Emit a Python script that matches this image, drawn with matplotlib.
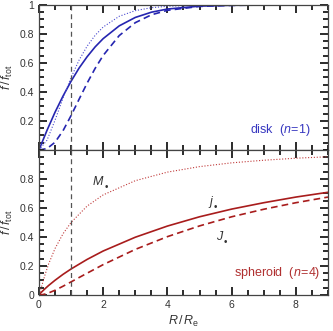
import numpy as np
import matplotlib
matplotlib.use('Agg')
import matplotlib.pyplot as plt
from matplotlib.ticker import MultipleLocator, FixedLocator, FuncFormatter

plt.rcParams['font.family'] = ['Liberation Sans', 'DejaVu Sans']
plt.rcParams['mathtext.fontset'] = 'custom'
plt.rcParams['mathtext.rm'] = 'Liberation Sans'
plt.rcParams['mathtext.it'] = 'Liberation Sans:italic'
plt.rcParams['mathtext.bf'] = 'Liberation Sans:bold'

# disk (n=1) cumulative fractions
r_disk = [0, 0.25, 0.5, 0.75, 1.0, 1.25, 1.5, 1.75, 2.0, 2.5, 3.0, 3.5, 4.0, 5.0, 6.0, 7.0, 9.0]
m_disk = [0, 0.067, 0.205, 0.358, 0.500, 0.620, 0.716, 0.791, 0.848, 0.922, 0.961, 0.981, 0.991, 0.998, 0.9995, 0.9999, 1.0]
jj_disk = [0, 0.135, 0.260, 0.372, 0.474, 0.565, 0.643, 0.711, 0.768, 0.856, 0.914, 0.950, 0.972, 0.992, 0.998, 0.9995, 1.0]
J_disk = [0, 0.009, 0.053, 0.133, 0.237, 0.350, 0.461, 0.563, 0.652, 0.789, 0.878, 0.932, 0.963, 0.990, 0.997, 0.9994, 1.0]

# spheroid (n=4) cumulative fractions
r_sph = [0, 0.01, 0.05, 0.1, 0.2, 0.3, 0.5, 0.75, 1.0, 1.5, 2.0, 3.0, 4.0, 5.0, 6.0, 7.0, 8.0, 9.0]
m_sph = [0, 0.0036, 0.032, 0.072, 0.147, 0.213, 0.320, 0.422, 0.500, 0.613, 0.690, 0.788, 0.847, 0.885, 0.911, 0.929, 0.943, 0.953]
jj_sph = [0, 0.0026, 0.012, 0.024, 0.045, 0.065, 0.101, 0.142, 0.179, 0.245, 0.303, 0.398, 0.475, 0.539, 0.592, 0.636, 0.675, 0.708]
J_sph = [0, 0.00001, 0.0004, 0.0017, 0.0066, 0.0137, 0.032, 0.060, 0.090, 0.150, 0.209, 0.314, 0.402, 0.476, 0.539, 0.591, 0.636, 0.675]

top_yticks = [0.2, 0.4, 0.6, 0.8, 1.0]
bot_yticks = [0, 0.2, 0.4, 0.6, 0.8]
xticks = [0, 2, 4, 6, 8]

blue = '#2525b0'
red = '#a81c1c'
blue_txt = '#3838c0'
red_txt = '#b03030'
grey = '#333333'

fig = plt.figure(figsize=(3.33, 3.31), dpi=100)
ax1 = fig.add_axes([0.117, 0.547, 0.868, 0.438])
ax2 = fig.add_axes([0.117, 0.109, 0.868, 0.438])

for ax, yt in ((ax1, top_yticks), (ax2, bot_yticks)):
    ax.set_xlim(0, 9)
    ax.set_ylim(0, 1)
    ax.xaxis.set_major_locator(FixedLocator(xticks))
    ax.xaxis.set_minor_locator(MultipleLocator(0.5))
    ax.yaxis.set_major_locator(FixedLocator(yt))
    ax.yaxis.set_minor_locator(MultipleLocator(0.05))
    ax.yaxis.set_major_formatter(FuncFormatter(lambda v, p: '0' if abs(v) < 1e-9 else ('1' if abs(v - 1) < 1e-9 else '%.1f' % v)))
    ax.tick_params(which='both', direction='in', top=True, right=True,
                   color='#1a1a1a', width=1.3)
    ax.tick_params(which='major', length=6)
    ax.tick_params(which='minor', length=3.5)
    ax.tick_params(labelsize=7.5, labelcolor=grey)

ax1.plot(r_disk, jj_disk, '-', color=blue, lw=1.2)
ax1.plot(r_disk, J_disk, color=blue, lw=1.2, ls=(0, (4, 2.5)))
ax1.plot(r_disk, m_disk, color='#4a4ad0', lw=0.8, ls=(0, (1, 1.6)))

ax2.plot(r_sph, jj_sph, '-', color=red, lw=1.2)
ax2.plot(r_sph, J_sph, color=red, lw=1.2, ls=(0, (4, 2.5)))
ax2.plot(r_sph, m_sph, color='#c03a3a', lw=0.8, ls=(0, (1, 1.6)))

for ax in (ax1, ax2):
    ax.axvline(1, color='#555555', lw=0.9, ls=(0, (4, 3)))
    for s in ax.spines.values():
        s.set_edgecolor('#444444')
        s.set_linewidth(0.9)
    ax.set_ylabel(r'$f\,/\,f_{\rm tot}$', fontsize=9, color=grey, labelpad=3)

ax1.tick_params(labelbottom=False)
ax2.set_xlabel(r'$R\,/\,R_{\rm e}$', fontsize=9, color=grey, labelpad=3)

ax1.text(8.45, 0.14, r'disk  ($n\!=\!1$)', color=blue_txt, fontsize=9,
         ha='right', va='center')
ax2.text(8.75, 0.15, r'spheroid  ($n\!=\!4$)', color=red_txt, fontsize=9,
         ha='right', va='center')
ax2.text(1.65, 0.78, r'$M$', color=grey, fontsize=9, ha='left', va='center')
ax2.text(2.05, 0.745, u'\u2022', color=grey, fontsize=7, ha='left', va='center')
ax2.text(5.25, 0.64, r'$j$', color=grey, fontsize=9, ha='left', va='center')
ax2.text(5.45, 0.605, u'\u2022', color=grey, fontsize=7, ha='left', va='center')
ax2.text(5.5, 0.40, r'$J$', color=grey, fontsize=9, ha='left', va='center')
ax2.text(5.75, 0.365, u'\u2022', color=grey, fontsize=7, ha='left', va='center')

fig.savefig('out.png', dpi=100)
